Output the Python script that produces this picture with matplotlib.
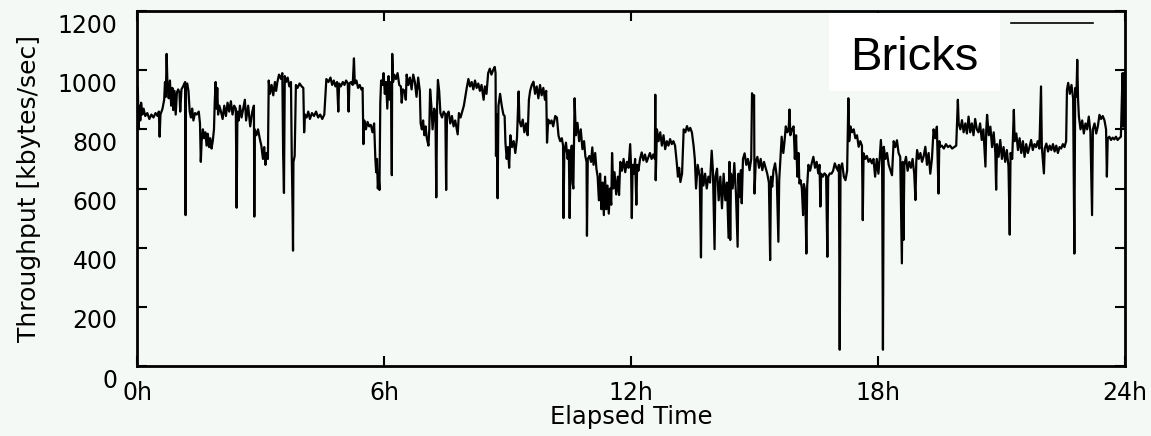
import matplotlib
matplotlib.use("Agg")
import matplotlib.pyplot as plt
from matplotlib.patches import Rectangle
from matplotlib.lines import Line2D
from matplotlib.transforms import ScaledTranslation

# throughput samples: (elapsed hours, kbytes/sec)
samples_0_6h = [
    (0.00, 900), (0.02, 940), (0.04, 800), (0.06, 880), (0.08, 830), (0.10, 890), (0.13, 850),
    (0.16, 870), (0.20, 845), (0.25, 855), (0.30, 835), (0.35, 850), (0.40, 840), (0.45, 855),
    (0.50, 845), (0.53, 860), (0.55, 775), (0.57, 850), (0.62, 870), (0.66, 900), (0.68, 960),
    (0.70, 910), (0.72, 1055), (0.74, 950), (0.77, 905), (0.80, 965), (0.83, 880), (0.86, 940),
    (0.88, 865), (0.91, 930), (0.94, 850), (0.97, 925), (1.00, 935), (1.03, 925), (1.05, 860),
    (1.08, 935), (1.12, 945), (1.15, 955), (1.17, 960), (1.18, 510), (1.19, 950), (1.22, 955),
    (1.25, 930), (1.28, 860), (1.31, 840), (1.34, 870), (1.37, 830), (1.41, 855), (1.45, 850),
    (1.50, 860), (1.53, 820), (1.55, 690), (1.57, 760), (1.60, 800), (1.63, 770), (1.66, 790),
    (1.69, 745), (1.72, 785), (1.75, 740), (1.78, 770), (1.81, 735), (1.84, 760), (1.87, 800),
    (1.89, 900), (1.91, 960), (1.93, 870), (1.95, 940), (1.97, 850), (2.00, 880), (2.04, 860),
    (2.08, 835), (2.12, 880), (2.16, 845), (2.20, 890), (2.24, 860), (2.28, 895), (2.32, 850),
    (2.36, 880), (2.40, 870), (2.42, 535), (2.44, 860), (2.47, 830), (2.50, 880), (2.54, 840),
    (2.58, 870), (2.62, 900), (2.65, 830), (2.70, 880), (2.75, 810), (2.80, 860), (2.84, 880),
    (2.85, 505), (2.86, 800), (2.90, 780), (2.94, 800), (2.98, 770), (3.02, 745), (3.06, 700),
    (3.09, 740), (3.12, 680), (3.15, 720), (3.18, 700), (3.20, 965), (3.23, 920), (3.27, 950),
    (3.31, 915), (3.35, 960), (3.38, 930), (3.41, 960), (3.45, 985), (3.50, 970), (3.53, 990),
    (3.55, 715), (3.57, 585), (3.59, 980), (3.62, 960), (3.66, 975), (3.70, 945), (3.74, 960),
    (3.76, 700), (3.78, 520), (3.79, 390), (3.80, 690), (3.83, 710), (3.86, 950), (3.90, 940),
    (3.95, 955), (4.00, 945), (4.04, 940), (4.06, 790), (4.08, 850), (4.12, 840), (4.16, 860),
    (4.20, 835), (4.25, 855), (4.30, 845), (4.35, 860), (4.40, 840), (4.45, 850), (4.50, 835),
    (4.55, 850), (4.60, 970), (4.65, 960), (4.70, 975), (4.74, 950), (4.78, 965), (4.82, 945),
    (4.86, 960), (4.89, 860), (4.91, 955), (4.95, 945), (5.00, 960), (5.04, 950), (5.08, 965),
    (5.12, 955), (5.14, 860), (5.16, 955), (5.20, 960), (5.24, 950), (5.27, 1040), (5.29, 955),
    (5.33, 965), (5.37, 940), (5.41, 950), (5.45, 935), (5.48, 940), (5.50, 750), (5.52, 830),
    (5.56, 800), (5.60, 825), (5.64, 810), (5.68, 815), (5.72, 790), (5.76, 820), (5.79, 700),
    (5.81, 655), (5.83, 700), (5.85, 600), (5.87, 640), (5.89, 595), (5.91, 890), (5.93, 965),
    (5.96, 950), (5.99, 990),
]

samples_6_12h = [
    (6.02, 920), (6.05, 960), (6.08, 870), (6.11, 980), (6.14, 900), (6.17, 960), (6.19, 645),
    (6.20, 1055), (6.22, 960), (6.25, 985), (6.29, 970), (6.33, 990), (6.37, 950), (6.41, 945),
    (6.43, 890), (6.46, 935), (6.50, 930), (6.53, 900), (6.55, 985), (6.59, 950), (6.63, 975),
    (6.67, 935), (6.71, 985), (6.75, 960), (6.79, 910), (6.83, 975), (6.87, 930), (6.89, 820),
    (6.92, 800), (6.95, 830), (6.98, 780), (7.01, 810), (7.04, 770), (7.08, 745), (7.10, 800),
    (7.12, 935), (7.15, 880), (7.18, 800), (7.22, 870), (7.25, 850), (7.27, 570), (7.29, 880),
    (7.31, 967), (7.34, 930), (7.37, 855), (7.41, 840), (7.45, 860), (7.49, 850), (7.51, 595),
    (7.53, 850), (7.57, 860), (7.61, 820), (7.65, 845), (7.69, 810), (7.73, 830), (7.77, 800),
    (7.79, 783), (7.82, 855), (7.86, 840), (7.90, 860), (7.94, 880), (7.98, 915), (8.01, 940),
    (8.05, 970), (8.09, 945), (8.13, 960), (8.17, 935), (8.21, 965), (8.25, 940), (8.29, 955),
    (8.33, 930), (8.37, 950), (8.42, 900), (8.45, 945), (8.49, 920), (8.53, 990), (8.57, 1005),
    (8.61, 985), (8.65, 1000), (8.69, 1011), (8.71, 990), (8.72, 710), (8.74, 850), (8.76, 567),
    (8.78, 880), (8.82, 920), (8.86, 880), (8.90, 850), (8.93, 845), (8.95, 755), (8.98, 700),
    (9.01, 740), (9.04, 670), (9.07, 780), (9.11, 740), (9.15, 760), (9.19, 720), (9.23, 770),
    (9.27, 928), (9.29, 830), (9.33, 810), (9.37, 833), (9.41, 790), (9.45, 820), (9.49, 780),
    (9.52, 900), (9.55, 930), (9.59, 950), (9.63, 961), (9.67, 920), (9.71, 945), (9.75, 905),
    (9.79, 950), (9.83, 915), (9.87, 940), (9.91, 900), (9.94, 930), (9.96, 755), (9.99, 833),
    (10.03, 820), (10.07, 830), (10.11, 810), (10.16, 845), (10.20, 840), (10.24, 778),
    (10.28, 760), (10.32, 770), (10.35, 745), (10.36, 500), (10.38, 720), (10.42, 755),
    (10.46, 700), (10.49, 730), (10.51, 500), (10.53, 690), (10.56, 745), (10.58, 620),
    (10.60, 600), (10.63, 905), (10.66, 780), (10.70, 822), (10.74, 760), (10.78, 800),
    (10.82, 733), (10.86, 760), (10.89, 710), (10.92, 690), (10.93, 440), (10.95, 700),
    (10.99, 710), (11.03, 690), (11.06, 739), (11.09, 680), (11.13, 720), (11.16, 667),
    (11.19, 640), (11.22, 560), (11.25, 650), (11.28, 530), (11.31, 620), (11.34, 510),
    (11.37, 640), (11.40, 530), (11.43, 610), (11.46, 515), (11.49, 600), (11.52, 545),
    (11.54, 720), (11.57, 600), (11.60, 655), (11.64, 580), (11.68, 640), (11.71, 578),
    (11.74, 690), (11.78, 660), (11.82, 700), (11.86, 655), (11.90, 690), (11.94, 670),
    (11.98, 750), (12.00, 680), (12.02, 500),
]

samples_12_18h = [
    (12.04, 680), (12.07, 650), (12.10, 700), (12.13, 545), (12.15, 680), (12.18, 660),
    (12.22, 700), (12.26, 722), (12.30, 695), (12.34, 715), (12.38, 690), (12.42, 705),
    (12.46, 720), (12.50, 700), (12.54, 715), (12.58, 700), (12.59, 917), (12.60, 628),
    (12.63, 800), (12.67, 760), (12.71, 790), (12.75, 745), (12.79, 780), (12.83, 733),
    (12.87, 760), (12.91, 745), (12.95, 767), (12.99, 750), (13.03, 760), (13.07, 745),
    (13.11, 690), (13.14, 640), (13.17, 670), (13.20, 622), (13.24, 650), (13.28, 800),
    (13.32, 790), (13.36, 811), (13.40, 795), (13.44, 805), (13.48, 789), (13.52, 745),
    (13.55, 700), (13.58, 600), (13.62, 680), (13.67, 640), (13.70, 367), (13.72, 667),
    (13.76, 610), (13.80, 650), (13.84, 600), (13.88, 640), (13.92, 620), (13.96, 728),
    (13.99, 660), (14.03, 395), (14.05, 640), (14.09, 667), (14.13, 560), (14.17, 640),
    (14.21, 533), (14.25, 650), (14.29, 560), (14.33, 620), (14.37, 433), (14.39, 690),
    (14.41, 426), (14.43, 650), (14.47, 600), (14.51, 686), (14.55, 580), (14.59, 403),
    (14.61, 650), (14.64, 571), (14.67, 662), (14.69, 550), (14.72, 700), (14.76, 719),
    (14.80, 680), (14.84, 700), (14.88, 662), (14.92, 700), (14.94, 922), (14.97, 900),
    (14.99, 915), (15.00, 583), (15.03, 690), (15.07, 707), (15.11, 670), (15.15, 700),
    (15.19, 662), (15.23, 690), (15.27, 670), (15.31, 650), (15.35, 620), (15.38, 358),
    (15.40, 640), (15.43, 606), (15.46, 660), (15.50, 685), (15.54, 640), (15.58, 420),
    (15.60, 628), (15.63, 700), (15.66, 775), (15.70, 720), (15.73, 760), (15.76, 810),
    (15.80, 790), (15.83, 800), (15.85, 867), (15.87, 780), (15.91, 800), (15.95, 810),
    (15.98, 700), (16.01, 780), (16.04, 640), (16.07, 720), (16.09, 617), (16.12, 628),
    (16.15, 600), (16.18, 510), (16.20, 615), (16.23, 594), (16.26, 380), (16.28, 610),
    (16.31, 680), (16.35, 660), (16.39, 685), (16.43, 707), (16.47, 670), (16.51, 690),
    (16.55, 651), (16.58, 680), (16.60, 539), (16.62, 650), (16.66, 640), (16.70, 651),
    (16.74, 645), (16.77, 369), (16.79, 640), (16.83, 651), (16.87, 650), (16.91, 660),
    (16.95, 685), (16.99, 670), (17.03, 660), (17.05, 680), (17.07, 55), (17.09, 670),
    (17.13, 685), (17.17, 640), (17.21, 628), (17.25, 660), (17.28, 905), (17.30, 760),
    (17.33, 810), (17.37, 790), (17.41, 800), (17.45, 770), (17.49, 780), (17.53, 741),
    (17.57, 760), (17.61, 745), (17.63, 493), (17.65, 719), (17.69, 700), (17.73, 710),
    (17.77, 690), (17.81, 700), (17.85, 685), (17.89, 700), (17.93, 640), (17.97, 700),
    (18.01, 650),
]

samples_18_24h = [
    (18.04, 700), (18.07, 764), (18.10, 690), (18.12, 55), (18.14, 741), (18.18, 700),
    (18.22, 720), (18.26, 680), (18.30, 662), (18.34, 645), (18.38, 760), (18.42, 740),
    (18.46, 763), (18.50, 720), (18.54, 707), (18.58, 347), (18.60, 690), (18.62, 426),
    (18.64, 680), (18.68, 707), (18.72, 660), (18.76, 690), (18.80, 670), (18.84, 700),
    (18.88, 650), (18.91, 561), (18.93, 690), (18.95, 730), (18.99, 700), (19.03, 720),
    (19.07, 690), (19.11, 710), (19.15, 741), (19.19, 680), (19.23, 720), (19.27, 650),
    (19.31, 700), (19.35, 800), (19.39, 770), (19.43, 809), (19.47, 583), (19.49, 760),
    (19.51, 741), (19.55, 745), (19.60, 735), (19.65, 750), (19.70, 740), (19.75, 745),
    (19.80, 735), (19.85, 740), (19.90, 745), (19.94, 900), (19.96, 820), (20.00, 800),
    (20.04, 831), (20.08, 790), (20.12, 820), (20.16, 786), (20.20, 843), (20.24, 790),
    (20.28, 820), (20.32, 780), (20.36, 835), (20.40, 800), (20.44, 790), (20.48, 820),
    (20.52, 764), (20.56, 800), (20.61, 674), (20.63, 800), (20.65, 849), (20.69, 780),
    (20.73, 809), (20.77, 740), (20.81, 790), (20.85, 720), (20.87, 596), (20.89, 750),
    (20.93, 707), (20.97, 764), (21.01, 700), (21.05, 740), (21.09, 690), (21.13, 730),
    (21.17, 674), (21.20, 444), (21.22, 720), (21.26, 700), (21.30, 866), (21.32, 760),
    (21.36, 786), (21.40, 730), (21.44, 770), (21.48, 720), (21.52, 760), (21.56, 707),
    (21.60, 750), (21.64, 720), (21.68, 740), (21.72, 764), (21.76, 730), (21.80, 750),
    (21.84, 740), (21.88, 760), (21.92, 735), (21.96, 945), (21.98, 740), (22.03, 651),
    (22.05, 735), (22.09, 752), (22.13, 725), (22.17, 745), (22.21, 730), (22.25, 750),
    (22.29, 725), (22.33, 745), (22.37, 720), (22.41, 740), (22.45, 735), (22.49, 750),
    (22.53, 740), (22.57, 760), (22.59, 934), (22.62, 957), (22.66, 920), (22.70, 950),
    (22.74, 905), (22.77, 380), (22.79, 940), (22.82, 910), (22.84, 1035), (22.86, 900),
    (22.88, 843), (22.92, 800), (22.96, 830), (23.00, 786), (23.04, 820), (23.08, 800),
    (23.12, 843), (23.16, 790), (23.20, 510), (23.22, 800), (23.26, 820), (23.30, 786),
    (23.34, 810), (23.38, 849), (23.42, 835), (23.46, 845), (23.50, 831), (23.54, 800),
    (23.56, 640), (23.58, 770), (23.62, 775), (23.66, 764), (23.70, 772), (23.74, 766),
    (23.78, 775), (23.82, 764), (23.86, 770), (23.90, 775), (23.94, 990), (23.96, 809),
    (23.98, 990), (24.00, 900),
]

x_ticks = [0, 6, 12, 18, 24]
x_tick_labels = ["0h", "6h", "12h", "18h", "24h"]
y_ticks = [0, 200, 400, 600, 800, 1000, 1200]
legend_text = "Bricks"

samples = samples_0_6h + samples_6_12h + samples_12_18h + samples_18_24h
hours = [s[0] for s in samples]
kbps = [s[1] for s in samples]

bg = "#f5f9f5"
W, H = 1151, 436

fig = plt.figure(figsize=(W / 100, H / 100), dpi=100, facecolor=bg)
# axes box in pixel coords: x 137..1125, y 11..366 (from top)
ax = fig.add_axes([137 / W, 1 - 366 / H, (1125 - 137) / W, (366 - 11) / H])
ax.set_facecolor(bg)

ax.plot(hours, kbps, color="black", lw=1.6)

ax.set_xlim(0, 24)
ax.set_ylim(0, 1200)
ax.set_xticks(x_ticks)
ax.set_xticklabels(x_tick_labels)
ax.set_yticks(y_ticks)
ax.tick_params(direction="in", length=7, width=1.5, top=True, right=True,
               labelsize=17, colors="black")
ax.tick_params(axis="y", pad=14)
ax.tick_params(axis="x", pad=11)
for sp in ax.spines.values():
    sp.set_linewidth(2)

# gnuplot puts the y labels a bit below their ticks
shift = ScaledTranslation(0, -0.12, fig.dpi_scale_trans)
for lab in ax.get_yticklabels():
    lab.set_transform(lab.get_transform() + shift)

ax.set_xlabel("Elapsed Time", fontsize=17.5, labelpad=0)
ax.set_ylabel("Throughput [kbytes/sec]", fontsize=18, labelpad=12)

# legend sample line (top right) and white box pasted over the key text
fig.add_artist(Line2D([1011 / W, 1093 / W], [1 - 23 / H, 1 - 23 / H],
                      transform=fig.transFigure, color="black", lw=1.2, zorder=5))
fig.add_artist(Rectangle((829 / W, 1 - 91 / H), (1000 - 829) / W, (91 - 13) / H,
                         transform=fig.transFigure, facecolor="white",
                         edgecolor="none", zorder=5))
fig.text(850 / W, 1 - 70 / H, legend_text, fontsize=34, family="Liberation Sans",
         ha="left", va="baseline", zorder=6)

fig.savefig("out.png", dpi=100, facecolor=bg)
